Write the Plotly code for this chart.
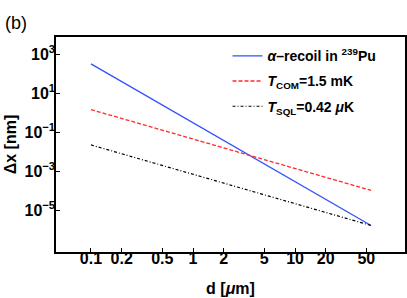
import plotly.graph_objects as go

# Data (straight lines on log-log axes)
d_alpha = [0.1, 55.6]
dx_alpha = [330, 1.7e-6]
d_com = [0.1, 55.6]
dx_com = [1.5, 1.07e-4]
d_sql = [0.1, 55.6]
dx_sql = [0.023, 1.7e-6]

x_tickvals = [0.1, 0.2, 0.5, 1, 2, 5, 10, 20, 50]
x_ticktext = ["0.1", "0.2", "0.5", "1", "2", "5", "10", "20", "50"]
y_tickvals = [1e3, 1e1, 1e-1, 1e-3, 1e-5]
y_ticktext = ["10<sup>3</sup>", "10<sup>1</sup>", "10<sup>−1</sup>", "10<sup>−3</sup>", "10<sup>−5</sup>"]

FONT = "Liberation Sans, Arial, sans-serif"

fig = go.Figure()
fig.add_trace(go.Scatter(x=d_alpha, y=dx_alpha, mode="lines",
                         line=dict(color="#3050ff", width=1.3),
                         name="<i>α</i>–recoil in <sup>239</sup>Pu", legendgroup="a"))
fig.add_trace(go.Scatter(x=d_com, y=dx_com, mode="lines",
                         line=dict(color="#ff2a2a", width=1.3, dash="4px,2px"),
                         name="<i>T</i><sub>COM</sub>=1.5 mK", legendgroup="b"))
fig.add_trace(go.Scatter(x=d_sql, y=dx_sql, mode="lines",
                         line=dict(color="black", width=1.2, dash="3px,2px,1px,2px"),
                         name="<i>T</i><sub>SQL</sub>=0.42 <i>μ</i>K", legendgroup="c"))

axis_common = dict(showline=True, linecolor="black", linewidth=1.5, mirror=True,
                   ticks="inside", ticklen=4, tickcolor="black", tickwidth=1,
                   showgrid=False, zeroline=False, automargin=False,
                   tickfont=dict(family=FONT, size=16, color="black", weight="bold"))

fig.update_xaxes(type="log", range=[-1.343, 2.078], tickvals=x_tickvals, ticktext=x_ticktext,
                 ticklabelstandoff=-9,
                 title=dict(text="d [<i>μ</i>m]", font=dict(family=FONT, size=16, color="black", weight="bold"),
                            standoff=17),
                 **axis_common)
fig.update_yaxes(type="log", range=[-7.13, 3.9], tickvals=y_tickvals, ticktext=y_ticktext,
                 ticklabelstandoff=-4,
                 title=dict(text="Δx [nm]", font=dict(family=FONT, size=16, color="black", weight="bold"),
                            standoff=4),
                 **axis_common)

fig.update_layout(
    width=407, height=298,
    margin=dict(l=56, r=2, t=37, b=46),
    plot_bgcolor="white", paper_bgcolor="white",
    font=dict(family=FONT, color="black"),
    legend=dict(x=0.4915, y=0.985, xanchor="left", yanchor="top",
                bgcolor="rgba(0,0,0,0)", tracegroupgap=4,
                font=dict(family=FONT, size=14, color="black", weight="bold")),
    annotations=[dict(text="(b)", xref="paper", yref="paper", x=-0.152, y=1.0,
                      xanchor="left", yanchor="bottom", yshift=2, showarrow=False,
                      font=dict(family=FONT, size=18, color="black"))],
)

fig.write_html("out.html", config={"displayModeBar": False},
               post_script="document.body.style.margin='0';document.body.style.overflow='hidden';")
